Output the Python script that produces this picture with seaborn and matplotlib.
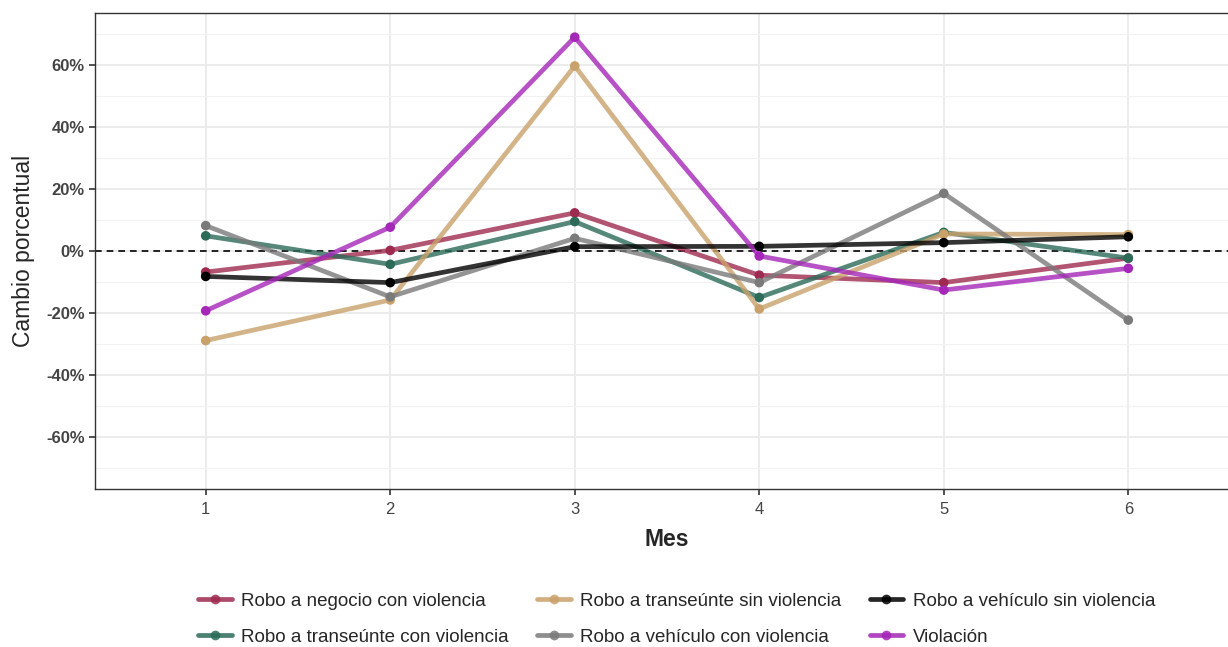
import numpy as np
import pandas as pd
import matplotlib.pyplot as plt
import seaborn as sns
from matplotlib.lines import Line2D
from matplotlib.ticker import MultipleLocator, FuncFormatter


# datos (cambio porcentual mensual por delito)

MESES = [1, 2, 3, 4, 5, 6]

DELITOS = [
    "Robo a negocio con violencia",
    "Robo a transeúnte con violencia",
    "Robo a transeúnte sin violencia",
    "Robo a vehículo con violencia",
    "Robo a vehículo sin violencia",
    "Violación",
]

negocio_con = [-6.8, 0.2, 12.3, -7.8, -10.2, -2.3]
transeunte_con = [4.9, -4.3, 9.5, -15.0, 6.0, -2.3]
transeunte_sin = [-28.9, -15.8, 59.7, -18.7, 5.5, 5.3]
vehiculo_con = [8.2, -14.8, 4.1, -10.2, 18.6, -22.3]
vehiculo_sin = [-8.2, -10.2, 1.4, 1.5, 2.7, 4.6]
violacion = [-19.3, 7.7, 69.0, -1.6, -12.6, -5.6]

COLORES = ["#9E2A4F", "#2B6B58", "#C9A16B", "#7A7A7A", "#000000", "#A526B8"]


def armar_datos() -> pd.DataFrame:
    series = [negocio_con, transeunte_con, transeunte_sin,
              vehiculo_con, vehiculo_sin, violacion]
    filas = []
    for delito, valores in zip(DELITOS, series):
        for mes, valor in zip(MESES, valores):
            filas.append({"mes": mes, "cambio": valor, "delito": delito})
    return pd.DataFrame(filas)


def main() -> None:
    datos = armar_datos()
    paleta = dict(zip(DELITOS, COLORES))

    sns.set_theme(style="white")
    plt.rcParams["font.family"] = ["Liberation Sans", "DejaVu Sans"]

    fig = plt.figure(figsize=(12.28, 6.47), dpi=100)
    ax = fig.add_axes([95 / 1228, 158 / 647, 1144 / 1228, 476 / 647])

    ax.axhline(0, color="black", linestyle=(0, (4, 3)), linewidth=1.2, zorder=2)

    sns.lineplot(data=datos, x="mes", y="cambio", hue="delito", hue_order=DELITOS,
                 palette=paleta, linewidth=3.4, alpha=0.8, legend=False,
                 ax=ax, zorder=3)
    sns.scatterplot(data=datos, x="mes", y="cambio", hue="delito", hue_order=DELITOS,
                    palette=paleta, s=48, linewidth=0, legend=False,
                    ax=ax, zorder=4)

    ax.set_xlim(0.4, 6.6)
    ax.set_ylim(-76.8, 76.8)
    ax.set_xticks(MESES)
    ax.yaxis.set_major_locator(MultipleLocator(20))
    ax.yaxis.set_minor_locator(MultipleLocator(10))
    ax.yaxis.set_major_formatter(FuncFormatter(lambda v, p: f"{v:.0f}%"))

    ax.grid(which="major", color="#EBEBEB", linewidth=1.3)
    ax.grid(which="minor", axis="y", color="#F2F2F2", linewidth=0.8)
    ax.set_axisbelow(True)
    for lado in ax.spines.values():
        lado.set_color("#333333")
        lado.set_linewidth(1.0)

    ax.tick_params(axis="both", which="major", length=4, width=1.2,
                   color="#333333", labelcolor="#444444", left=True, bottom=True)
    ax.tick_params(axis="y", which="minor", length=0)
    ax.tick_params(axis="x", labelsize=12, pad=5)
    ax.tick_params(axis="y", labelsize=12)
    for etiqueta in ax.get_yticklabels():
        etiqueta.set_fontweight("bold")

    ax.set_xlabel("Mes", fontsize=16.5, fontweight="bold", labelpad=8)
    ax.set_ylabel("Cambio porcentual", fontsize=16.5, labelpad=8)

    manijas = [
        Line2D([0], [0], color=paleta[d], linewidth=3.4, marker="o",
               markersize=7, markeredgewidth=0, alpha=0.85)
        for d in DELITOS
    ]
    fig.legend(manijas, DELITOS, loc="center", bbox_to_anchor=(0.551, 0.043),
               ncol=3, frameon=False, fontsize=13.5, handlelength=1.8,
               handletextpad=0.5, columnspacing=1.5, labelspacing=1.0)

    fig.savefig("out.png", dpi=100)


if __name__ == "__main__":
    main()
